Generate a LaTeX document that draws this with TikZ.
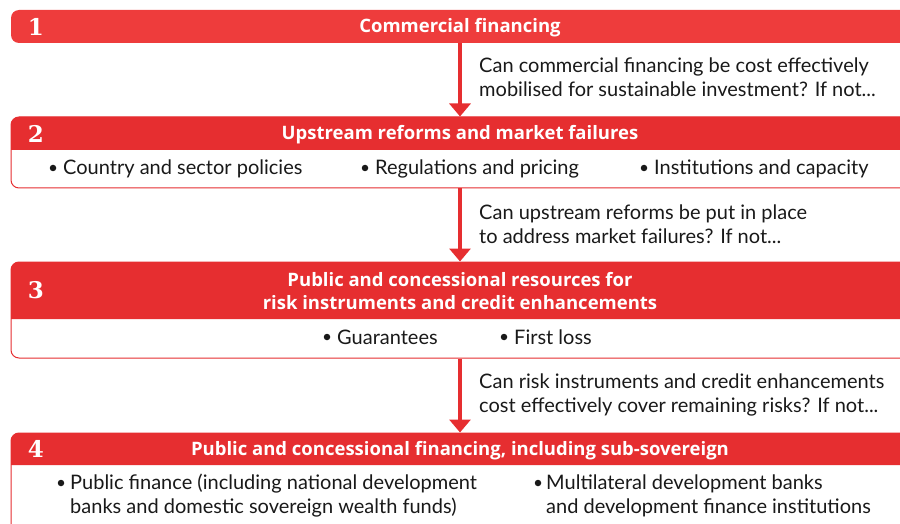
\documentclass[tikz,border=0pt]{standalone}
\usepackage{fontspec}
\setmainfont{Lato}
\newfontfamily\hdrfont{Open Sans}
\newfontfamily\numfont{DejaVu Serif}
\usetikzlibrary{arrows.meta}
\definecolor{redA}{RGB}{238,60,60}
\definecolor{redB}{RGB}{230,46,48}
\definecolor{ink}{RGB}{25,25,25}
\tikzset{
  hdrtext/.style={text=white,font=\hdrfont\bfseries\fontsize{18.5}{23}\selectfont,align=center,inner sep=0,anchor=base},
  numtext/.style={text=white,font=\numfont\bfseries\fontsize{23}{23}\selectfont,inner sep=0},
  bodytext/.style={text=ink,font=\fontsize{20}{24}\selectfont,anchor=base west,inner sep=0,align=left},
  bodybox/.style={draw=redB,line width=1pt,fill=white,rounded corners=8pt,minimum width=898pt,inner sep=0},
  arr/.style={draw=redB,line width=4pt,-{Triangle[width=21pt,length=13pt]}},
  bul/.style={circle,fill=ink,inner sep=0,minimum size=6.5pt}
}
\begin{document}
\begin{tikzpicture}[x=1pt,y=-1pt]
\useasboundingbox (0,0) rectangle (900,524);
\begin{scope}
\clip (0,0) rectangle (900,524);
% box 1
\node[fill=redA,rounded corners=8pt,minimum width=898pt,minimum height=33pt,inner sep=0] (c1) at (460,26.5) {};
\node[hdrtext] (t1) at (460,33) {Commercial financing};
\node[numtext] (n1) at (36,26.5) {1};
% box 2
\node[bodybox,minimum height=71pt] (b2) at (460,152.5) {};
\fill[redB] (11,150) [rounded corners=8pt] -- (11,117) -- (909,117) [sharp corners] -- (909,150) -- cycle;
\node[hdrtext] (t2) at (460,140) {Upstream reforms and market failures};
\node[numtext] (n2) at (36,133.5) {2};
\node[bul] (d21) at (53,168) {};
\node[bodytext] (p21) at (63,175) {Country and sector policies};
\node[bul] (d22) at (365,168) {};
\node[bodytext] (p22) at (375,175) {Regulations and pricing};
\node[bul] (d23) at (644,168) {};
\node[bodytext] (p23) at (654,175) {Institutions and capacity};
% box 3
\node[bodybox,minimum height=96pt] (b3) at (460,310) {};
\fill[redB] (11,319) [rounded corners=8pt] -- (11,262) -- (909,262) [sharp corners] -- (909,319) -- cycle;
\node[hdrtext] (t3) at (460,309) {Public and concessional resources for\\risk instruments and credit enhancements};
\node[numtext] (n3) at (36,290.5) {3};
\node[bul] (d31) at (327,337) {};
\node[bodytext] (p31) at (337,344) {Guarantees};
\node[bul] (d32) at (504,337) {};
\node[bodytext] (p32) at (514,344) {First loss};
% box 4
\node[bodybox,minimum height=110pt] (b4) at (460,488) {};
\fill[redB] (11,465) [rounded corners=8pt] -- (11,433) -- (909,433) [sharp corners] -- (909,465) -- cycle;
\node[hdrtext] (t4) at (460,455.5) {Public and concessional financing, including sub-sovereign};
\node[numtext] (n4) at (36,449) {4};
\node[bul] (d41) at (61,483) {};
\node[bodytext] (p41) at (70,513) {Public finance (including national development\\banks and domestic sovereign wealth funds)};
\node[bul] (d42) at (538,483) {};
\node[bodytext] (p42) at (546,513) {Multilateral development banks\\and development finance institutions};
\end{scope}
% arrows
\draw[arr] (c1.south) -- (b2.north);
\draw[arr] (b2.south) -- (b3.north);
\draw[arr] (b3.south) -- (b4.north);
% questions
\node[bodytext] (q1) at (479,97) {Can commercial financing be cost effectively\\mobilised for sustainable investment? If not...};
\node[bodytext] (q2) at (479,243) {Can upstream reforms be put in place\\to address market failures? If not...};
\node[bodytext] (q3) at (479,412) {Can risk instruments and credit enhancements\\cost effectively cover remaining risks? If not...};
\end{tikzpicture}
\end{document}
